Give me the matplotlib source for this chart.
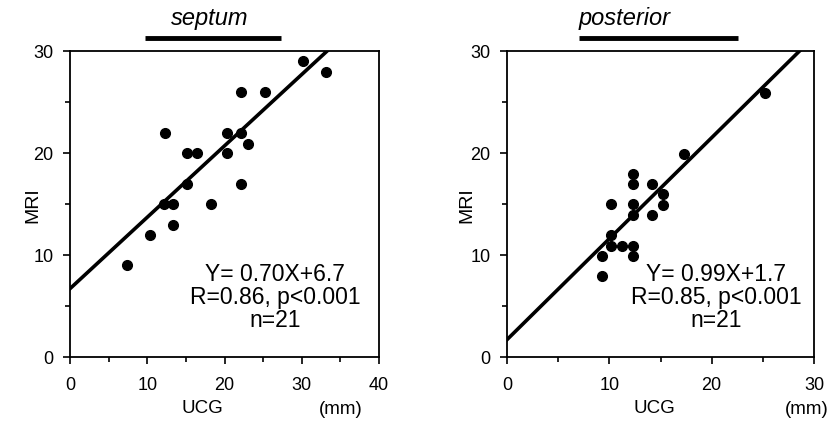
import numpy as np
import matplotlib.pyplot as plt
from matplotlib.ticker import MultipleLocator

plt.rcParams['font.family'] = ['Liberation Sans', 'DejaVu Sans']

# septum: UCG (mm) vs MRI (mm)
septum_ucg = [30.2, 33.1, 22.2, 25.3, 12.3, 20.3, 22.2, 23.1, 15.2, 16.4,
              20.3, 15.2, 22.2, 12.2, 13.3, 18.2, 13.3, 10.3, 7.4]
septum_mri = [29.0, 27.9, 26.0, 26.0, 22.0, 22.0, 22.0, 20.9, 20.0, 20.0,
              20.0, 17.0, 17.0, 15.0, 15.0, 15.0, 12.9, 12.0, 9.0]
septum_fit = (0.70, 6.7)

# posterior
post_ucg = [25.2, 17.3, 12.3, 12.3, 14.2, 15.2, 10.2, 12.3, 15.2, 12.3,
            14.2, 10.2, 10.2, 11.2, 12.3, 12.3, 9.3, 9.3]
post_mri = [25.9, 19.9, 17.9, 17.0, 17.0, 16.0, 15.0, 15.0, 14.9, 13.9,
            13.9, 12.0, 10.9, 10.9, 10.9, 9.9, 9.9, 7.9]
post_fit = (0.99, 1.7)

panels = [
    dict(name='septum', x=septum_ucg, y=septum_mri, fit=septum_fit, xmax=40,
         stats='Y= 0.70X+6.7\nR=0.86, p<0.001\nn=21'),
    dict(name='posterior', x=post_ucg, y=post_mri, fit=post_fit, xmax=30,
         stats='Y= 0.99X+1.7\nR=0.85, p<0.001\nn=21'),
]

fig = plt.figure(figsize=(8.33, 4.3), dpi=100)
W, H = 833, 430
boxes = [(70, 379), (507, 814)]
top, bottom = 51, 357

# positions in axes fraction
title_x = [0.453, 0.384]
bar_x = [(0.243, 0.683), (0.235, 0.752)]
stats_x = [0.663, 0.681]
ucg_x = [0.43, 0.48]
mm_x = [0.875, 0.975]
mri_x = [-0.12, -0.13]

for i, p in enumerate(panels):
    x0, x1 = boxes[i]
    ax = fig.add_axes([x0 / W, 1 - bottom / H, (x1 - x0) / W, (bottom - top) / H])
    ax.plot(p['x'], p['y'], 'o', color='black', ms=7, clip_on=False)
    xs = np.array([0, p['xmax']])
    ax.plot(xs, p['fit'][0] * xs + p['fit'][1], color='black', lw=2.6)
    ax.set_xlim(0, p['xmax'])
    ax.set_ylim(0, 30)
    ax.xaxis.set_major_locator(MultipleLocator(10))
    ax.xaxis.set_minor_locator(MultipleLocator(5))
    ax.yaxis.set_major_locator(MultipleLocator(10))
    ax.yaxis.set_minor_locator(MultipleLocator(5))
    ax.tick_params(which='major', direction='out', length=5, width=1.2,
                   labelsize=13, pad=7)
    ax.tick_params(axis='x', which='major', pad=9.5)
    ax.tick_params(which='minor', direction='out', length=3.5, width=1.2)
    for s in ax.spines.values():
        s.set_linewidth(1.3)

    ax.text(mri_x[i], 0.497, 'MRI', transform=ax.transAxes, rotation=90,
            fontsize=14, ha='center', va='center')
    ax.text(title_x[i], 1.085, p['name'], transform=ax.transAxes,
            fontsize=17, style='italic', ha='center', va='baseline')
    ax.plot(bar_x[i], [1.042, 1.042], transform=ax.transAxes, color='black',
            lw=3.5, clip_on=False, solid_capstyle='butt')
    ax.text(stats_x[i], 0.196, p['stats'], transform=ax.transAxes,
            fontsize=16.5, ha='center', va='center', linespacing=1.0)
    ax.text(ucg_x[i], -0.167, 'UCG', transform=ax.transAxes,
            fontsize=13.5, ha='center', va='center')
    ax.text(mm_x[i], -0.17, '(mm)', transform=ax.transAxes,
            fontsize=13.5, ha='center', va='center')

fig.savefig('out.png', dpi=100)
